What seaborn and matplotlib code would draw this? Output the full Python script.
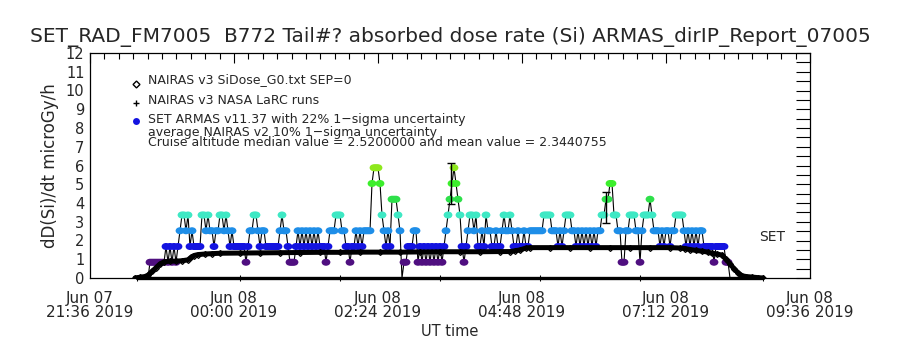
import matplotlib
matplotlib.use("Agg")
import matplotlib.pyplot as plt
import seaborn as sns
import pandas as pd
from matplotlib.path import Path
from matplotlib.transforms import Affine2D
from matplotlib.ticker import MultipleLocator, FixedLocator, FixedFormatter

# ---- data (x in minutes after 2019-06-07 21:36 UT) ----
level_step = 0.84                      # ARMAS dose-rate quantum, microGy/h
armas_t0 = 58                          # first ARMAS sample
armas_dt = 2                           # cadence in minutes
armas_levels = (
    "0111111112" "1212123443" "4232222443" "4332334434" "3232222221"
    "2334432332" "2222223433" "2111232323" "2323232221" "2333444332"
    "2122323233" "3367776432" "3255543011" "2223312121" "2121212123"
    "4567654212" "3443422324" "3322322343" "3432232232" "2333333344"
    "4433323234" "4433232323" "2323233445" "5664433113" "3444331344"
    "4543332323" "3233444432" "3232323322" "2221222221" "10"
)
level_colors = {0: "#000000", 1: "#4f0f80", 2: "#1414e0", 3: "#1e8ee8",
                4: "#3ee8c4", 5: "#2ee04a", 6: "#3cee2c", 7: "#8ee81c"}

nairas_t = [45, 50, 55, 58, 62, 66, 70, 74, 80, 86, 92, 98, 101, 104, 108, 115,
            122, 130, 150, 170, 190, 210, 230, 250, 270, 290, 310, 330,
            350, 370, 390, 410, 420, 425, 430, 436, 440, 460, 480, 500, 520, 540,
            560, 580, 590, 595, 600, 606, 612, 618, 622, 627, 632, 636, 640, 644,
            648, 652, 656, 662, 668, 673]
nairas_v = [0.0, 0.04, 0.08, 0.15, 0.35, 0.55, 0.75, 0.86, 0.9, 0.9, 0.92, 0.97, 1.1, 1.2, 1.25, 1.28,
            1.3, 1.32, 1.33, 1.34, 1.35, 1.36, 1.37, 1.37, 1.38, 1.38, 1.38, 1.39,
            1.4, 1.4, 1.4, 1.41, 1.41, 1.45, 1.5, 1.6, 1.62, 1.62, 1.62, 1.62, 1.62, 1.62,
            1.62, 1.62, 1.6, 1.57, 1.52, 1.47, 1.43, 1.38, 1.32, 1.28, 1.22, 1.0, 0.75, 0.5,
            0.28, 0.12, 0.08, 0.05, 0.02, 0.0]

larc_t = [47, 150, 250, 350, 450, 550, 673]
larc_v = [0, 0, 0, 0, 0, 0, 0]

errbar_t = [361, 516]
errbar_v = [5.04, 3.78]
sigma_frac = 0.22

xtick_min = [0, 144, 288, 432, 576, 720]
xtick_labels = ["Jun 07\n21:36 2019", "Jun 08\n00:00 2019", "Jun 08\n02:24 2019",
                "Jun 08\n04:48 2019", "Jun 08\n07:12 2019", "Jun 08\n09:36 2019"]

title = "SET_RAD_FM7005  B772 Tail#? absorbed dose rate (Si) ARMAS_dirIP_Report_07005"
legend_lines = ["NAIRAS v3 SiDose_G0.txt SEP=0", "NAIRAS v3 NASA LaRC runs",
                "SET ARMAS v11.37 with 22% 1\u2212sigma uncertainty",
                "average NAIRAS v2 10% 1\u2212sigma uncertainty",
                "Cruise altitude median value = 2.5200000 and mean value = 2.3440755"]

# ---- frames ----
lv = [int(c) for c in armas_levels]
armas = pd.DataFrame({"t": [armas_t0 + armas_dt * i for i in range(len(lv))],
                      "level": lv})
armas["dose"] = armas["level"] * level_step
nairas = pd.DataFrame({"t": nairas_t, "dose": nairas_v})
larc = pd.DataFrame({"t": larc_t, "dose": larc_v})

sns.set_style("white")
plt.rcParams["font.family"] = ["DejaVu Sans"]

# slightly flattened dot, like the IDL filled symbol
flat_dot = Affine2D().scale(1.25, 1.0).transform_path(Path.unit_circle())

fig = plt.figure(figsize=(9, 3.5), dpi=100)
ax = fig.add_axes([0.1, 1 - 278 / 350, 0.8, 225 / 350])

# ARMAS: thin connecting line, then coloured points
sns.lineplot(data=armas, x="t", y="dose", ax=ax, color="black", lw=0.8,
             sort=False, estimator=None, zorder=2)
pts = armas[armas["level"] > 0]
sns.scatterplot(data=pts, x="t", y="dose", hue="level", palette=level_colors,
                ax=ax, s=40, marker=flat_dot, linewidth=0, legend=False, zorder=3)

# NAIRAS v3 model profile (hollow diamonds, thick band)
sns.lineplot(data=nairas, x="t", y="dose", ax=ax, color="black", lw=3.6,
             sort=False, estimator=None, marker="D", markersize=3,
             markerfacecolor="none", markeredgecolor="black",
             markeredgewidth=0.9, zorder=4)
# NASA LaRC runs along zero
sns.lineplot(data=larc, x="t", y="dose", ax=ax, color="black", lw=2.4,
             sort=False, estimator=None, marker="+", markersize=5,
             markeredgecolor="black", zorder=4, clip_on=False)

ax.errorbar(errbar_t, errbar_v, yerr=[v * sigma_frac for v in errbar_v],
            fmt="none", ecolor="black", elinewidth=1, capsize=3, zorder=5)

ax.set_xlim(0, 720)
ax.set_ylim(0, 12)
ax.xaxis.set_major_locator(FixedLocator(xtick_min))
ax.xaxis.set_major_formatter(FixedFormatter(xtick_labels))
ax.xaxis.set_minor_locator(MultipleLocator(14.4))
ax.yaxis.set_major_locator(MultipleLocator(1))
ax.yaxis.set_minor_locator(MultipleLocator(0.5))
ax.tick_params(axis="both", which="both", direction="in", top=True, right=True,
               color="black", width=0.8)
ax.tick_params(axis="y", which="both", length=10)
ax.tick_params(axis="y", which="major", labelsize=10.5, pad=4)
ax.tick_params(axis="x", which="major", length=7, labelsize=11, pad=9)
ax.tick_params(axis="x", which="minor", length=4)
for lab in ax.get_xticklabels():
    lab.set_linespacing(0.95)
for sp in ax.spines.values():
    sp.set_color("black")
    sp.set_linewidth(0.9)

ax.set_xlabel("UT time", fontsize=10.5, labelpad=3)
ax.set_ylabel("dD(Si)/dt microGy/h", fontsize=12, labelpad=5)
fig.text(0.5, 1 - 37 / 350, title, ha="center", va="center", fontsize=14.5)

# legend block drawn as in the original (symbol + text lines)
tx = 148 / 900
rows_y = [80, 100, 120, 132, 142]
for txt, yy in zip(legend_lines, rows_y):
    fig.text(tx, 1 - yy / 350, txt, ha="left", va="center", fontsize=9)
fig.lines.append(plt.Line2D([136 / 900], [1 - 84 / 350], marker="D", ms=3.5,
                            mfc="none", mec="black", transform=fig.transFigure))
fig.lines.append(plt.Line2D([136 / 900], [1 - 103 / 350], marker="+", ms=5,
                            color="black", transform=fig.transFigure))
fig.lines.append(plt.Line2D([136 / 900], [1 - 121 / 350], marker="o", ms=5,
                            color=level_colors[2], mec="none", transform=fig.transFigure))
fig.text(772 / 900, 1 - 237 / 350, "SET", ha="center", va="center", fontsize=10)

fig.savefig("out.png", dpi=100)
